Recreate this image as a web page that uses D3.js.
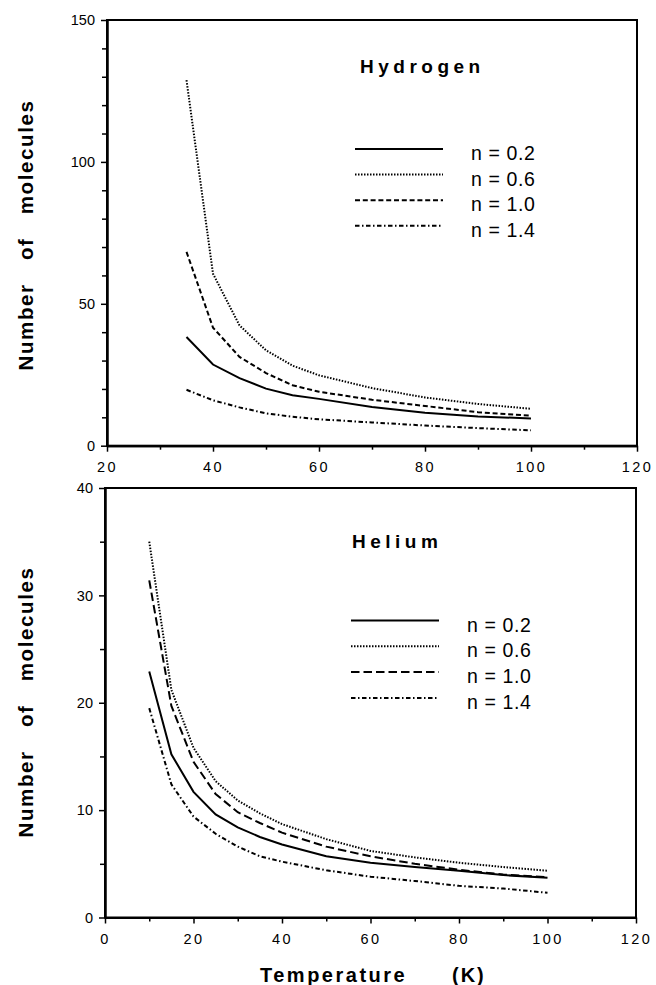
<!DOCTYPE html>
<html>
<head>
<meta charset="utf-8">
<script src="https://cdn.jsdelivr.net/npm/d3@7/dist/d3.min.js"></script>
<style>
body { margin: 0; background: #fff; }
text { font-family: "Liberation Sans", Arial, Helvetica, sans-serif; fill: #000; }
</style>
</head>
<body>
<script>
// legend labels, one per curve
var nLabels = ["n = 0.2", "n = 0.6", "n = 1.0", "n = 1.4"];

// Hydrogen panel
var h2Temp = [35, 40, 45, 50, 55, 60, 70, 80, 90, 100];
var h2N02 = [38.3, 28.6, 23.8, 20.1, 17.8, 16.5, 13.6, 11.6, 10.3, 9.6];
var h2N06 = [128.8, 60.6, 42.4, 33.6, 28.2, 24.8, 20.3, 17.0, 14.7, 13.0];
var h2N10 = [68.3, 41.6, 31.3, 25.6, 21.3, 19.0, 16.2, 14.0, 11.8, 10.6];
var h2N14 = [19.7, 16.0, 13.5, 11.4, 10.2, 9.3, 8.2, 7.1, 6.2, 5.4];

// Helium panel
var heTemp = [10, 15, 20, 25, 30, 35, 40, 50, 60, 70, 80, 90, 100];
var heN02 = [22.9, 15.2, 11.7, 9.6, 8.4, 7.5, 6.8, 5.7, 5.1, 4.7, 4.35, 3.95, 3.7];
var heN06 = [35.0, 21.2, 15.8, 12.7, 10.9, 9.7, 8.7, 7.3, 6.2, 5.6, 5.1, 4.7, 4.35];
var heN10 = [31.4, 19.7, 14.5, 11.5, 9.8, 8.8, 7.9, 6.6, 5.7, 5.0, 4.45, 4.0, 3.75];
var heN14 = [19.5, 12.4, 9.4, 7.8, 6.6, 5.7, 5.2, 4.4, 3.8, 3.4, 2.95, 2.7, 2.3];

// tick values
var h2XMajor = [20, 40, 60, 80, 100, 120];
var h2XMinor = [30, 50, 70, 90, 110];
var h2YMajor = [0, 50, 100, 150];
var h2YMinor = [10, 20, 30, 40, 60, 70, 80, 90, 110, 120, 130, 140];
var heXMajor = [0, 20, 40, 60, 80, 100, 120];
var heXMinor = [10, 30, 50, 70, 90, 110];
var heYMajor = [0, 10, 20, 30, 40];
var heYMinor = [5, 15, 25, 35];

var svg = d3.select("body").append("svg")
    .attr("width", 656)
    .attr("height", 985);

function drawPanel(opt) {
    var x = d3.scaleLinear().domain(opt.xDomain).range([opt.left, opt.right]);
    var y = d3.scaleLinear().domain(opt.yDomain).range([opt.bottom, opt.top]);
    var g = svg.append("g");

    // frame
    g.append("rect")
        .attr("x", opt.left).attr("y", opt.top)
        .attr("width", opt.right - opt.left)
        .attr("height", opt.bottom - opt.top)
        .attr("fill", "none").attr("stroke", "#000").attr("stroke-width", 2);

    // minor ticks
    g.append("g").attr("transform", "translate(0," + opt.bottom + ")")
        .call(d3.axisBottom(x).tickValues(opt.xMinor).tickSize(4).tickSizeOuter(0).tickFormat(""));
    g.append("g").attr("transform", "translate(" + opt.left + ",0)")
        .call(d3.axisLeft(y).tickValues(opt.yMinor).tickSize(5).tickSizeOuter(0).tickFormat(""));

    // major ticks + labels
    var xa = g.append("g").attr("transform", "translate(0," + opt.bottom + ")")
        .call(d3.axisBottom(x).tickValues(opt.xMajor).tickSize(6).tickSizeOuter(0).tickPadding(10));
    xa.selectAll("text").style("font-size", "14.5px").style("letter-spacing", "2.5px");
    var ya = g.append("g").attr("transform", "translate(" + opt.left + ",0)")
        .call(d3.axisLeft(y).tickValues(opt.yMajor).tickSize(6).tickSizeOuter(0).tickPadding(6));
    ya.selectAll("text").style("font-size", "14.5px");

    g.selectAll(".domain").attr("stroke-width", 2);
    g.selectAll(".tick line").attr("stroke-width", 1.5);
    g.selectAll(".tick text").attr("fill", "#000");

    // curves
    var line = d3.line()
        .x(function(d) { return x(d[0]); })
        .y(function(d) { return y(d[1]); });

    opt.series.forEach(function(vals, i) {
        var pts = opt.xs.map(function(t, j) { return [t, vals[j]]; });
        g.append("path")
            .datum(pts)
            .attr("d", line)
            .attr("fill", "none")
            .attr("stroke", "#000")
            .attr("stroke-width", opt.styles[i].w)
            .attr("stroke-dasharray", opt.styles[i].dash);
    });

    // title
    g.append("text")
        .attr("x", opt.titleX).attr("y", opt.titleY)
        .style("font-size", "19px").style("font-weight", "bold")
        .style("letter-spacing", "4.5px")
        .text(opt.title);

    // legend
    nLabels.forEach(function(lab, i) {
        var ly = opt.legY + i * opt.legStep;
        g.append("line")
            .attr("x1", opt.legX).attr("x2", opt.legX + 88)
            .attr("y1", ly).attr("y2", ly)
            .attr("stroke", "#000")
            .attr("stroke-width", opt.styles[i].w)
            .attr("stroke-dasharray", opt.styles[i].dash);
        g.append("text")
            .attr("x", opt.legX + 116).attr("y", ly + 11)
            .style("font-size", "19.5px")
            .style("letter-spacing", "0.6px")
            .text(lab);
    });

    // y label
    g.append("text")
        .attr("transform", "translate(33," + opt.yLabelY + ") rotate(-90)")
        .attr("text-anchor", "middle")
        .style("font-size", "20.5px").style("font-weight", "bold")
        .style("letter-spacing", "1.6px").style("word-spacing", "16px")
        .text("Number of molecules");
}

drawPanel({
    left: 107, right: 637, top: 20, bottom: 445.7,
    xDomain: [20, 120], yDomain: [0, 150],
    xMajor: h2XMajor, xMinor: h2XMinor, yMajor: h2YMajor, yMinor: h2YMinor,
    xs: h2Temp, series: [h2N02, h2N06, h2N10, h2N14],
    styles: [{w: 2, dash: null}, {w: 2, dash: "1.5,1.5"}, {w: 2, dash: "5,2.8"}, {w: 2, dash: "4.5,2.5,1.5,2.5"}],
    title: "Hydrogen", titleX: 360, titleY: 73,
    legX: 355, legY: 149, legStep: 25.6,
    yLabelY: 235
});

drawPanel({
    left: 105, right: 636, top: 488, bottom: 917.5,
    xDomain: [0, 120], yDomain: [0, 40],
    xMajor: heXMajor, xMinor: heXMinor, yMajor: heYMajor, yMinor: heYMinor,
    xs: heTemp, series: [heN02, heN06, heN10, heN14],
    styles: [{w: 2, dash: null}, {w: 2, dash: "1.5,1.5"}, {w: 2, dash: "8.5,4"}, {w: 2, dash: "4.5,2.5,1.5,2.5"}],
    title: "Helium", titleX: 352, titleY: 548,
    legX: 351, legY: 620.5, legStep: 25.8,
    yLabelY: 702
});

// x title
svg.append("text")
    .attr("x", 260).attr("y", 982)
    .style("font-size", "20px").style("font-weight", "bold")
    .style("letter-spacing", "2.5px")
    .text("Temperature");
svg.append("text")
    .attr("x", 452).attr("y", 982)
    .style("font-size", "20px").style("font-weight", "bold")
    .style("letter-spacing", "2px")
    .text("(K)");
</script>
</body>
</html>
